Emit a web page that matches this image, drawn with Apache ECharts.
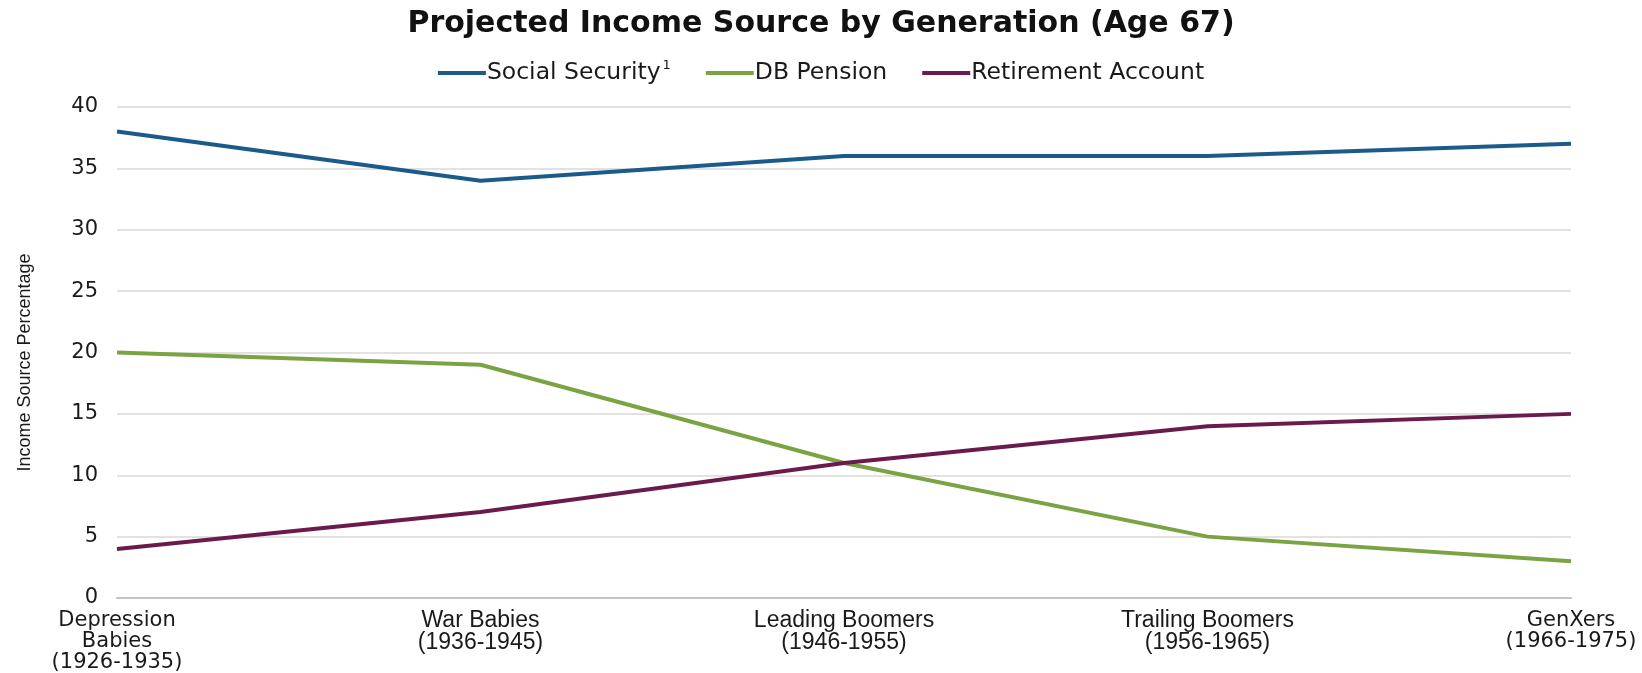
<!DOCTYPE html>
<html>
<head>
<meta charset="utf-8">
<script src="https://cdn.jsdelivr.net/npm/echarts@6/dist/echarts.min.js"></script>
<style>
  html, body { margin: 0; padding: 0; background: #fff; }
  #chart { width: 1642px; height: 673px; }
</style>
</head>
<body>
<div id="chart"></div>
<script>
// Generations shown along the x axis
const generations = [
  'Depression\nBabies\n(1926-1935)',
  'War Babies\n(1936-1945)',
  'Leading Boomers\n(1946-1955)',
  'Trailing Boomers\n(1956-1965)',
  'GenXers\n(1966-1975)'
];

// Share of income at age 67, by source (percent)
const socialSecurity    = [38, 34, 36, 36, 37];
const dbPension         = [20, 19, 11, 5, 3];
const retirementAccount = [4, 7, 11, 14, 15];

const seriesNames = ['Social Security', 'DB Pension', 'Retirement Account'];
const seriesColors = ['#1b5b8a', '#7aa444', '#6a1b4c'];

const wideFont = '"DejaVu Sans", Verdana, sans-serif';
const narrowFont = '"Liberation Sans Narrow", "Arial Narrow", "Liberation Sans", Arial, sans-serif';

const chart = echarts.init(document.getElementById('chart'), null, { renderer: 'canvas' });

const lastIdx = generations.length - 1;

chart.setOption({
  backgroundColor: '#ffffff',
  animation: false,
  title: {
    text: 'Projected Income Source by Generation (Age 67)',
    left: 'center',
    top: 4,
    textStyle: {
      fontFamily: wideFont,
      fontWeight: 'bold',
      fontSize: 30,
      color: '#111111'
    }
  },
  legend: {
    top: 54,
    left: 'center',
    itemWidth: 48,
    itemHeight: 4,
    itemGap: 35,
    icon: 'rect',
    data: seriesNames,
    formatter: function (name) {
      if (name === 'Social Security') {
        return '{t|' + name + '}{sup|1}';
      }
      return '{t|' + name + '}';
    },
    textStyle: {
      padding: [0, 0, 0, -4],
      rich: {
        t: {
          fontFamily: wideFont,
          fontSize: 23.5,
          color: '#1a1a1a',
          lineHeight: 28
        },
        sup: {
          fontFamily: wideFont,
          fontSize: 13,
          color: '#1a1a1a',
          verticalAlign: 'top',
          padding: [0, 0, 14, 2]
        }
      }
    }
  },
  grid: {
    left: 117,
    right: 71,
    top: 107,
    bottom: 73,
    containLabel: false
  },
  xAxis: {
    type: 'category',
    data: generations,
    boundaryGap: false,
    axisTick: { show: false },
    axisLine: { show: true, lineStyle: { color: '#c4c4c4', width: 2 } },
    axisLabel: {
      interval: 0,
      margin: 12,
      formatter: function (value, idx) {
        const tag = (idx === 0 || idx === lastIdx) ? 'w' : 'n';
        return value.split('\n').map(function (line) {
          return '{' + tag + '|' + line + '}';
        }).join('\n');
      },
      rich: {
        w: { fontFamily: wideFont, fontSize: 21, color: '#1a1a1a', lineHeight: 21 },
        n: { fontFamily: narrowFont, fontSize: 23, color: '#1a1a1a', lineHeight: 22 }
      }
    }
  },
  yAxis: {
    type: 'value',
    min: 0,
    max: 40,
    interval: 5,
    name: 'Income Source Percentage',
    nameLocation: 'middle',
    nameGap: 83,
    nameRotate: 90,
    nameTextStyle: {
      fontFamily: narrowFont,
      fontSize: 18,
      color: '#1a1a1a',
      padding: [0, 20, 0, 0]
    },
    axisLine: { show: false },
    axisTick: { show: false },
    axisLabel: {
      margin: 19,
      fontFamily: wideFont,
      fontSize: 21,
      color: '#1a1a1a'
    },
    splitLine: { lineStyle: { color: '#d9d9d9', width: 1.5 } }
  },
  series: [
    { name: seriesNames[0], data: socialSecurity },
    { name: seriesNames[1], data: dbPension },
    { name: seriesNames[2], data: retirementAccount }
  ].map(function (s, i) {
    return {
      name: s.name,
      type: 'line',
      data: s.data,
      symbol: 'none',
      smooth: false,
      color: seriesColors[i],
      lineStyle: { width: 4, color: seriesColors[i] }
    };
  })
});
</script>
</body>
</html>
